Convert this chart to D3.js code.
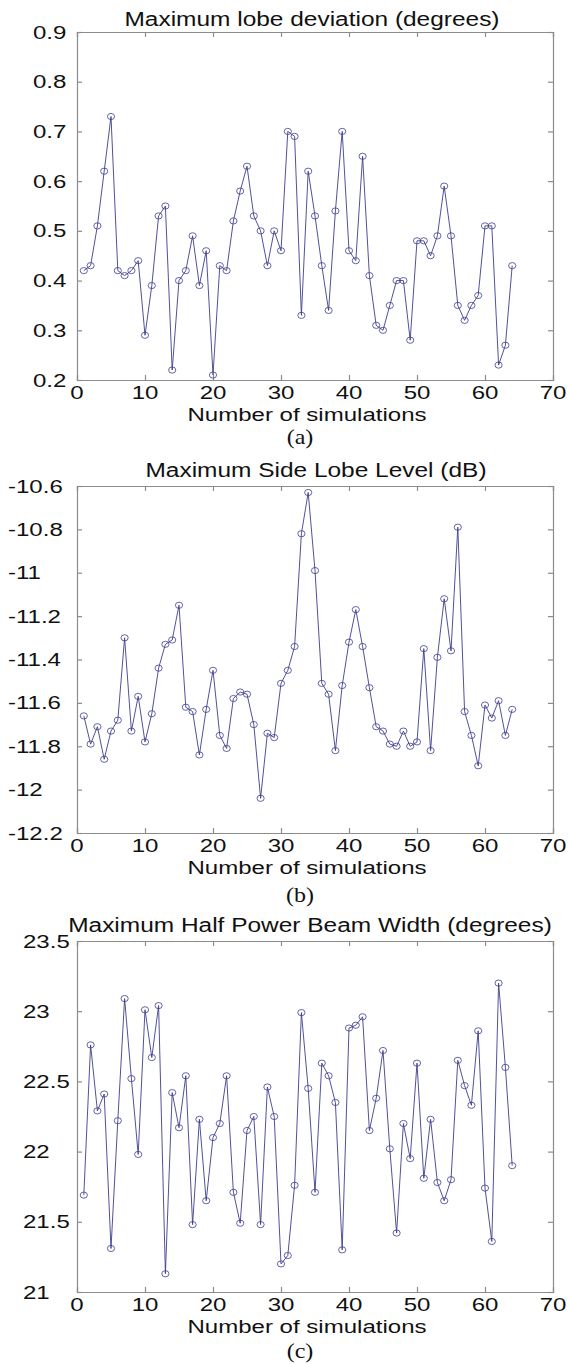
<!DOCTYPE html>
<html>
<head>
<meta charset="utf-8">
<script src="https://cdn.jsdelivr.net/npm/d3@7"></script>
<style>
  html, body { margin: 0; padding: 0; background: #fff; }
  svg { display: block; }
</style>
</head>
<body>
<svg id="canvas"></svg>
<script>
/***********************************************************************/
// Data

var runs = [1, 2, 3, 4, 5, 6, 7, 8, 9, 10, 11, 12, 13, 14, 15, 16,
  17, 18, 19, 20, 21, 22, 23, 24, 25, 26, 27, 28, 29, 30, 31, 32,
  33, 34, 35, 36, 37, 38, 39, 40, 41, 42, 43, 44, 45, 46, 47, 48,
  49, 50, 51, 52, 53, 54, 55, 56, 57, 58, 59, 60, 61, 62, 63, 64];

var lobeDeviation = [0.42, 0.43, 0.51, 0.62, 0.73, 0.42, 0.41, 0.42, 0.44, 0.29, 0.39, 0.53, 0.55, 0.22, 0.40, 0.42,
  0.49, 0.39, 0.46, 0.21, 0.43, 0.42, 0.52, 0.58, 0.63, 0.53, 0.50, 0.43, 0.50, 0.46, 0.70, 0.69,
  0.33, 0.62, 0.53, 0.43, 0.34, 0.54, 0.70, 0.46, 0.44, 0.65, 0.41, 0.31, 0.30, 0.35, 0.40, 0.40,
  0.28, 0.48, 0.48, 0.45, 0.49, 0.59, 0.49, 0.35, 0.32, 0.35, 0.37, 0.51, 0.51, 0.23, 0.27, 0.43];

var sideLobeLevel = [-11.66, -11.79, -11.71, -11.86, -11.73, -11.68, -11.30, -11.73, -11.57, -11.78, -11.65, -11.44, -11.33, -11.31, -11.15, -11.62,
  -11.64, -11.84, -11.63, -11.45, -11.75, -11.81, -11.58, -11.55, -11.56, -11.70, -12.04, -11.74, -11.76, -11.51, -11.45, -11.34,
  -10.82, -10.63, -10.99, -11.51, -11.56, -11.82, -11.52, -11.32, -11.17, -11.34, -11.53, -11.71, -11.73, -11.79, -11.80, -11.73,
  -11.80, -11.78, -11.35, -11.82, -11.39, -11.12, -11.36, -10.79, -11.64, -11.75, -11.89, -11.61, -11.67, -11.59, -11.75, -11.63];

var beamWidth = [21.69, 22.76, 22.29, 22.41, 21.31, 22.22, 23.09, 22.52, 21.98, 23.01, 22.67, 23.04, 21.13, 22.42, 22.17, 22.54,
  21.48, 22.23, 21.65, 22.10, 22.20, 22.54, 21.71, 21.49, 22.15, 22.25, 21.48, 22.46, 22.25, 21.20, 21.26, 21.76,
  22.99, 22.45, 21.71, 22.63, 22.54, 22.35, 21.30, 22.88, 22.90, 22.96, 22.15, 22.38, 22.72, 22.02, 21.42, 22.20,
  21.95, 22.63, 21.81, 22.23, 21.78, 21.65, 21.80, 22.65, 22.47, 22.33, 22.86, 21.74, 21.36, 23.20, 22.60, 21.90];

var xTicks = [0, 10, 20, 30, 40, 50, 60, 70];
var xTickLabels = ['0', '10', '20', '30', '40', '50', '60', '70'];

var yTicksA = [0.2, 0.3, 0.4, 0.5, 0.6, 0.7, 0.8, 0.9];
var yTickLabelsA = ['0.2', '0.3', '0.4', '0.5', '0.6', '0.7', '0.8', '0.9'];

var yTicksB = [-12.2, -12, -11.8, -11.6, -11.4, -11.2, -11, -10.8, -10.6];
var yTickLabelsB = ['-12.2', '-12', '-11.8', '-11.6', '-11.4', '-11.2', '-11', '-10.8', '-10.6'];

var yTicksC = [21, 21.5, 22, 22.5, 23, 23.5];
var yTickLabelsC = ['21', '21.5', '22', '22.5', '23', '23.5'];

var titles = ['Maximum lobe deviation (degrees)', 'Maximum Side Lobe Level (dB)', 'Maximum Half Power Beam Width (degrees)'];
var captions = ['(a)', '(b)', '(c)'];
var xLabel = 'Number of simulations';

/***********************************************************************/
// Layout

var width = 568, height = 1364;
var plotLeft = 77, plotRight = 553;
var sansFont = 'Arial, "Liberation Sans", sans-serif';
var serifFont = '"Times New Roman", "Liberation Serif", serif';
var lineColor = '#3d3d8f';
var boxColor = '#8c8c8c';

var panels = [
  { values: lobeDeviation, ticks: yTicksA, labels: yTickLabelsA, top: 32, bottom: 380, titleY: 26, titleX: 312, labelX: 33, captionY: 444 },
  { values: sideLobeLevel, ticks: yTicksB, labels: yTickLabelsB, top: 486, bottom: 833, titleY: 477, titleX: 316, labelX: 8, captionY: 902 },
  { values: beamWidth, ticks: yTicksC, labels: yTickLabelsC, top: 941, bottom: 1292, titleY: 932, titleX: 310, labelX: 23, captionY: 1358 }
];

var svg = d3.select('#canvas').attr('width', width).attr('height', height);

var xScale = d3.scaleLinear().domain([0, 70]).range([plotLeft, plotRight]);

// the picture is widened, so its text is drawn with a horizontal stretch
function stretchedText(g, x, y, str, size, stretch, font, anchor){
  return g.append('text')
    .attr('transform', 'translate(' + x + ',' + y + ') scale(' + stretch + ',1)')
    .attr('text-anchor', anchor)
    .style('font-family', font)
    .style('font-size', size + 'px')
    .style('fill', '#111')
    .text(str);
}

/***********************************************************************/
// Draw panels

panels.forEach((p, k) => {
  var g = svg.append('g');
  var yScale = d3.scaleLinear().domain(d3.extent(p.ticks)).range([p.bottom, p.top]);

  // axes: ticks inside the box on all four sides
  var axisBottom = d3.axisBottom(xScale).tickValues(xTicks).tickSize(-5).tickFormat('');
  var axisTop = d3.axisTop(xScale).tickValues(xTicks).tickSize(-5).tickFormat('');
  var axisLeft = d3.axisLeft(yScale).tickValues(p.ticks).tickSize(-5).tickFormat('');
  var axisRight = d3.axisRight(yScale).tickValues(p.ticks).tickSize(-5).tickFormat('');

  [[axisBottom, 0, p.bottom], [axisTop, 0, p.top], [axisLeft, plotLeft, 0], [axisRight, plotRight, 0]].forEach(a => {
    var ag = g.append('g').attr('transform', 'translate(' + a[1] + ',' + a[2] + ')').call(a[0]);
    ag.selectAll('path, line').attr('stroke', boxColor).attr('stroke-width', 1.2);
  });

  // tick labels
  xTicks.forEach((t, i) => {
    stretchedText(g, xScale(t), p.bottom + 19, xTickLabels[i], 18.5, 1.3, sansFont, 'middle');
  });
  p.ticks.forEach((t, i) => {
    stretchedText(g, p.labelX, yScale(t) + 6.5, p.labels[i], 18.5, 1.3, sansFont, 'start');
  });

  // texts
  stretchedText(g, p.titleX, p.titleY, titles[k], 21, 1.165, sansFont, 'middle');
  stretchedText(g, 307, p.bottom + 41, xLabel, 18.5, 1.3, sansFont, 'middle');
  stretchedText(g, 300, p.captionY, captions[k], 20, 1.2, serifFont, 'middle');

  // series
  var line = d3.line().x((d, i) => xScale(runs[i])).y(d => yScale(d));
  g.append('path').datum(p.values)
    .attr('d', line)
    .attr('fill', 'none')
    .attr('stroke', lineColor)
    .attr('stroke-width', 0.9);

  g.selectAll('ellipse.marker').data(p.values).enter().append('ellipse')
    .attr('class', 'marker')
    .attr('cx', (d, i) => xScale(runs[i]))
    .attr('cy', d => yScale(d))
    .attr('rx', 3.6)
    .attr('ry', 3.1)
    .attr('fill', 'none')
    .attr('stroke', lineColor)
    .attr('stroke-width', 0.8);
});
</script>
</body>
</html>
